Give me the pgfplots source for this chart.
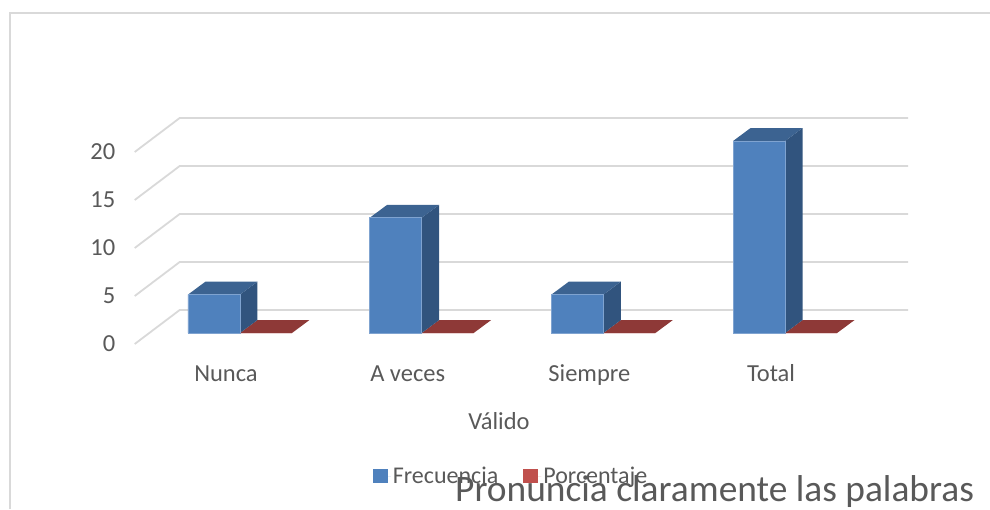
\documentclass[border=0pt]{standalone}
\usepackage{fontspec}
\setmainfont{Carlito}
\usepackage{pgfplots}
\pgfplotsset{compat=1.18}
\usepackage{pgfplotstable}
\definecolor{txt}{HTML}{595959}
\definecolor{gridc}{HTML}{D9D9D9}
\definecolor{bfront}{HTML}{4F81BD}
\definecolor{bedge}{HTML}{7FA3D0}
\definecolor{bside}{HTML}{31547E}
\definecolor{btop}{HTML}{3C6391}
\definecolor{rfront}{HTML}{C0504D}
\definecolor{rtop}{HTML}{8E3937}

\pgfplotstableread{
x frecuencia porcentaje
0 4 0
1 12 0
2 4 0
3 20 0
}\datos

\begin{document}
\begin{tikzpicture}[x=1pt,y=1pt]
\path[use as bounding box] (0,0) rectangle (990,509);
\draw[gridc,line width=2pt] (10,0) -- (10,496) -- (990,496);
\begin{axis}[
    at={(134.7pt,165pt)}, anchor=south west,
    scale only axis, width=773.3pt, height=226pt,
    xmin=-0.5795, xmax=3.6764, ymin=-1.1458, ymax=22.396,
    clip=false,
    axis line style={draw=none},
    tick style={draw=none},
    xtick={0,1,2,3}, xticklabels={Nunca,A veces,Siempre,Total},
    ytick={-1.1458,3.8542,8.8542,13.8542,18.8542},
    yticklabels={0,5,10,15,20},
    /pgf/number format/assume math mode=true,
    every tick label/.append style={font=\fontsize{24.5}{29}\selectfont, text=txt},
    xticklabel style={xshift=-14pt, yshift=-18pt, anchor=north, text height=16pt, text depth=5pt},
    yticklabel style={xshift=-16pt, yshift=0pt, anchor=east},
    xlabel={Válido},
    xlabel style={at={(axis description cs:0.4711,-0.3407)}, anchor=center,
        font=\fontsize{24.5}{29}\selectfont, text=txt},
    legend columns=2,
    legend style={at={(axis description cs:0.3039,-0.585)}, anchor=west, draw=none, fill=none,
        font=\fontsize{24}{29}\selectfont, text=txt,
        /tikz/every even column/.append style={column sep=23pt}},
    legend image code/.code={\fill[#1,draw=none] (0pt,-7pt) rectangle (15pt,7pt); \path[draw=none] (0pt,0pt) -- (18pt,0pt);},
]
% back wall gridlines and floor-side lines
\addplot[gridc,line width=1.8pt,forget plot] coordinates {(-0.5795,-1.1458)(-0.3318,2.3958)(3.6764,2.3958)};
\addplot[gridc,line width=1.8pt,forget plot] coordinates {(-0.5795,3.8542)(-0.3318,7.3958)(3.6764,7.3958)};
\addplot[gridc,line width=1.8pt,forget plot] coordinates {(-0.5795,8.8542)(-0.3318,12.3958)(3.6764,12.3958)};
\addplot[gridc,line width=1.8pt,forget plot] coordinates {(-0.5795,13.8542)(-0.3318,17.3958)(3.6764,17.3958)};
\addplot[gridc,line width=1.8pt,forget plot] coordinates {(-0.5795,18.8542)(-0.3318,22.3958)(3.6764,22.3958)};
% flat red tops
\addplot[fill=rtop,draw=none,forget plot] coordinates {(0,0)(0.2862,0)(0.3825,1.354)(0.0963,1.354)} -- cycle;
\addplot[fill=rtop,draw=none,forget plot] coordinates {(1,0)(1.2862,0)(1.3825,1.354)(1.0963,1.354)} -- cycle;
\addplot[fill=rtop,draw=none,forget plot] coordinates {(2,0)(2.2862,0)(2.3825,1.354)(2.0963,1.354)} -- cycle;
\addplot[fill=rtop,draw=none,forget plot] coordinates {(3,0)(3.2862,0)(3.3825,1.354)(3.0963,1.354)} -- cycle;
% blue side faces
\addplot[fill=bside,draw=none,forget plot] coordinates {(0,0)(0.0963,1.354)(0.0963,5.354)(0,4)} -- cycle;
\addplot[fill=bside,draw=none,forget plot] coordinates {(1,0)(1.0963,1.354)(1.0963,13.354)(1,12)} -- cycle;
\addplot[fill=bside,draw=none,forget plot] coordinates {(2,0)(2.0963,1.354)(2.0963,5.354)(2,4)} -- cycle;
\addplot[fill=bside,draw=none,forget plot] coordinates {(3,0)(3.0963,1.354)(3.0963,21.354)(3,20)} -- cycle;
% blue top faces
\addplot[fill=btop,draw=none,forget plot] coordinates {(-0.2862,4)(0,4)(0.0963,5.354)(-0.1899,5.354)} -- cycle;
\addplot[fill=btop,draw=none,forget plot] coordinates {(0.7138,12)(1,12)(1.0963,13.354)(0.8101,13.354)} -- cycle;
\addplot[fill=btop,draw=none,forget plot] coordinates {(1.7138,4)(2,4)(2.0963,5.354)(1.8101,5.354)} -- cycle;
\addplot[fill=btop,draw=none,forget plot] coordinates {(2.7138,20)(3,20)(3.0963,21.354)(2.8101,21.354)} -- cycle;
% front faces
\addplot[ybar,bar width=52pt,bar shift=-26pt,fill=bfront,draw=bedge,line width=0.7pt] table[x=x,y=frecuencia] {\datos};
\addlegendentry{Frecuencia}
\addplot[ybar,bar width=52pt,bar shift=26pt,fill=rfront,draw=none] table[x=x,y=porcentaje] {\datos};
\addlegendentry{Porcentaje}
\end{axis}
\node[text=txt,font=\fontsize{37.4}{44}\selectfont,anchor=base west,inner sep=0pt] at (455,7.5) {Pronuncia claramente las palabras};
\end{tikzpicture}
\end{document}
